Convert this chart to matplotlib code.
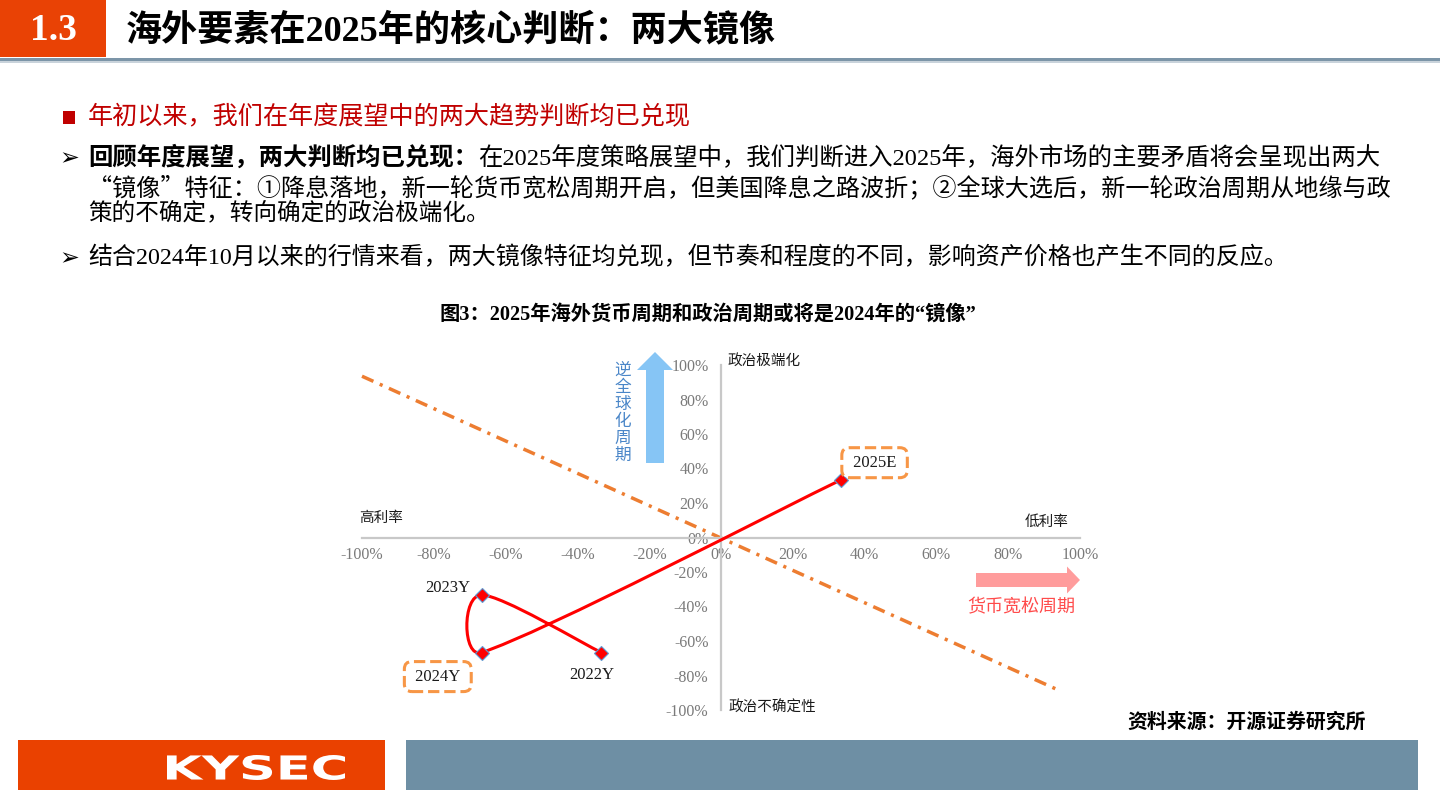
import numpy as np
import matplotlib
matplotlib.use("Agg")
import matplotlib.pyplot as plt
from matplotlib.patches import Rectangle, FancyArrow, PathPatch
from matplotlib.path import Path
from matplotlib.textpath import TextPath
from matplotlib.font_manager import FontProperties
from matplotlib.transforms import Affine2D
from matplotlib.ticker import FuncFormatter

# ---- data ----
years = ["2022Y", "2023Y", "2024Y", "2025E"]
rate_x = [-33.3, -66.7, -66.7, 33.3]        # 利率维度 (%)
politics_y = [-66.7, -33.3, -66.7, 33.3]    # 政治维度 (%)
boxed_years = ["2024Y", "2025E"]
divider_x = [-100, 93.5]
divider_y = [93.5, -88.0]
tick_vals = list(range(-100, 101, 20))

CJK = "Noto Sans CJK SC"
MIX = ["Liberation Serif", CJK]
plt.rcParams["font.family"] = MIX

ORANGE = "#E94205"
SLATE = "#6E8FA4"

fig = plt.figure(figsize=(14.4, 8.1), dpi=100)
bg = fig.add_axes([0, 0, 1, 1])
bg.set_xlim(0, 1440)
bg.set_ylim(810, 0)
bg.axis("off")

# ---- header ----
bg.add_patch(Rectangle((0, 0), 106, 57, color=ORANGE, lw=0))
bg.text(53, 30, "1.3", color="white", fontsize=27, fontweight="bold",
        family="Liberation Serif", ha="center", va="center")
bg.text(126, 31, "海外要素在2025年的核心判断：两大镜像", fontsize=26,
        fontweight="bold", family=MIX, ha="left", va="center")
bg.add_patch(Rectangle((0, 57.5), 1440, 3.5, color="#7C95A8", lw=0))
bg.add_patch(Rectangle((0, 61), 1440, 1.5, color="#C9D3DB", lw=0))

# ---- bullet text ----
bg.add_patch(Rectangle((63, 111), 12, 13, color="#C00000", lw=0))
bg.text(88, 117, "年初以来，我们在年度展望中的两大趋势判断均已兑现",
        color="#C00000", fontsize=18.1, family=MIX, ha="left", va="center")

for yb in (158, 258):
    bg.text(69, yb, "➢", fontsize=17, family="DejaVu Sans",
            ha="center", va="center")

renderer = fig.canvas.get_renderer()
t_bold = bg.text(88, 158, "回顾年度展望，两大判断均已兑现：", fontsize=17.6,
                 fontweight="bold", family=MIX, ha="left", va="center")
x_end = bg.transData.inverted().transform(
    (t_bold.get_window_extent(renderer).x1, 0))[0]
bg.text(x_end, 158, "在2025年度策略展望中，我们判断进入2025年，海外市场的主要矛盾将会呈现出两大",
        fontsize=17.6, family=MIX, ha="left", va="center")
bg.text(88, 188, "“镜像”特征：①降息落地，新一轮货币宽松周期开启，但美国降息之路波折；②全球大选后，新一轮政治周期从地缘与政",
        fontsize=17.35, family=[CJK, "DejaVu Sans"], ha="left", va="center")
bg.text(88, 213, "策的不确定，转向确定的政治极端化。",
        fontsize=17, family=MIX, ha="left", va="center")
bg.text(88, 258, "结合2024年10月以来的行情来看，两大镜像特征均兑现，但节奏和程度的不同，影响资产价格也产生不同的反应。",
        fontsize=17.25, family=MIX, ha="left", va="center")

# ---- chart title / source ----
bg.text(708, 315, "图3：2025年海外货币周期和政治周期或将是2024年的“镜像”",
        fontsize=14.6, fontweight="bold", family=MIX, ha="center", va="center")
bg.text(1127, 721, "资料来源：开源证券研究所", fontsize=14.3, fontweight="bold",
        family=CJK, ha="left", va="center")

# ---- chart ----
ax = fig.add_axes([362 / 1440, (810 - 710) / 810, (1080 - 362) / 1440, (710 - 365) / 810])
ax.patch.set_visible(False)
ax.set_xlim(-100, 100)
ax.set_ylim(-100, 100)
for s in ("top", "right"):
    ax.spines[s].set_visible(False)
for s in ("left", "bottom"):
    ax.spines[s].set_position("zero")
    ax.spines[s].set_color("#C8C8C8")
    ax.spines[s].set_linewidth(1.6)
ax.set_xticks(tick_vals)
ax.set_yticks(tick_vals)
pct = FuncFormatter(lambda v, p: f"{v:.0f}%")
ax.xaxis.set_major_formatter(pct)
ax.yaxis.set_major_formatter(pct)
ax.tick_params(axis="x", length=0, pad=6.5, labelsize=11.5, labelcolor="#7A7A7A")
ax.tick_params(axis="y", length=0, pad=9, labelsize=11.5, labelcolor="#7A7A7A")

ax.plot(divider_x, divider_y, color="#ED7D31", lw=2.5,
        linestyle=(0, (3.6, 2.0, 0.9, 2.0)), clip_on=False, zorder=2)


def smooth_path(axis, xs, ys, k=1 / 6, cap=0.35):
    # Excel-like smoothed line: cubic bezier segments built in display space
    pts = axis.transData.transform(np.column_stack([xs, ys]))
    n = len(pts)
    verts = [pts[0]]
    codes = [Path.MOVETO]
    for i in range(n - 1):
        p0, p1 = pts[max(i - 1, 0)], pts[i]
        p2, p3 = pts[i + 1], pts[min(i + 2, n - 1)]
        seg = np.linalg.norm(p2 - p1)
        tans = []
        for t in ((p2 - p0) * k, (p3 - p1) * k):
            nt = np.linalg.norm(t)
            if nt > cap * seg:
                t = t * cap * seg / nt
            tans.append(t)
        verts += [p1 + tans[0], p2 - tans[1], p2]
        codes += [Path.CURVE4] * 3
    verts = axis.transData.inverted().transform(np.array(verts))
    return Path(verts, codes)


ax.add_patch(PathPatch(smooth_path(ax, rate_x, politics_y), fc="none",
                       ec="#FF0000", lw=2.2, zorder=4, clip_on=False))
ax.plot(rate_x, politics_y, "D", ms=7, mfc="#FF0000", mec="#5B9BD5",
        mew=0.8, zorder=5, clip_on=False)

label_offsets = {"2022Y": (-7, -16.5), "2023Y": (-24.5, 5),
                 "2024Y": (-31.5, -17.3), "2025E": (24.5, 12.5)}
for name, xv, yv in zip(years, rate_x, politics_y):
    box, shown = None, name
    if name in boxed_years:
        shown = f" {name} "
        box = dict(boxstyle="round,pad=0.42,rounding_size=0.45", fc="white",
                   ec="#F79646", lw=2.2, ls="--")
    ax.annotate(shown, (xv, yv), xytext=label_offsets[name],
                textcoords="offset points", ha="center", va="center",
                fontsize=12, family="Liberation Serif", color="#1a1a1a",
                bbox=box, zorder=6, annotation_clip=False)

# ---- quadrant labels & arrows ----
for txt, x, y in [("政治极端化", 728, 361), ("高利率", 359, 518),
                  ("低利率", 1025, 522), ("政治不确定性", 729, 708)]:
    bg.text(x, y, txt, fontsize=10.5, family=CJK, ha="left", va="center",
            color="#1a1a1a")

bg.add_patch(FancyArrow(655, 463, 0, -111, width=18, head_width=36,
                        head_length=18, length_includes_head=True,
                        fc="#86C5F5", ec="none"))
for i, ch in enumerate("逆全球化周期"):
    bg.text(623, 370.5 + 17 * i, ch, fontsize=12, family=CJK, color="#4A86C8",
            ha="center", va="center")

bg.add_patch(FancyArrow(976, 580, 104, 0, width=14, head_width=27,
                        head_length=13, length_includes_head=True,
                        fc="#FF9C9C", ec="none"))
bg.text(967, 607, "货币宽松周期", fontsize=13, family=CJK, color="#FF4B4B",
        ha="left", va="center")

# ---- footer ----
bg.add_patch(Rectangle((18, 740), 367, 50, color="#EA4100", lw=0))
bg.add_patch(Rectangle((406, 740), 1012, 50, color=SLATE, lw=0))
logo = TextPath((0, 0), "KYSEC", size=1,
                prop=FontProperties(family="DejaVu Sans", weight="bold"))
ext = logo.get_extents()
sx, sy = 178 / ext.width, 25 / ext.height
tr = Affine2D().scale(sx, -sy).translate(167 - sx * ext.x0, 780 + sy * ext.y0)
bg.add_patch(PathPatch(logo, transform=tr + bg.transData, fc="white", lw=0))

fig.savefig("out.png", dpi=100)
